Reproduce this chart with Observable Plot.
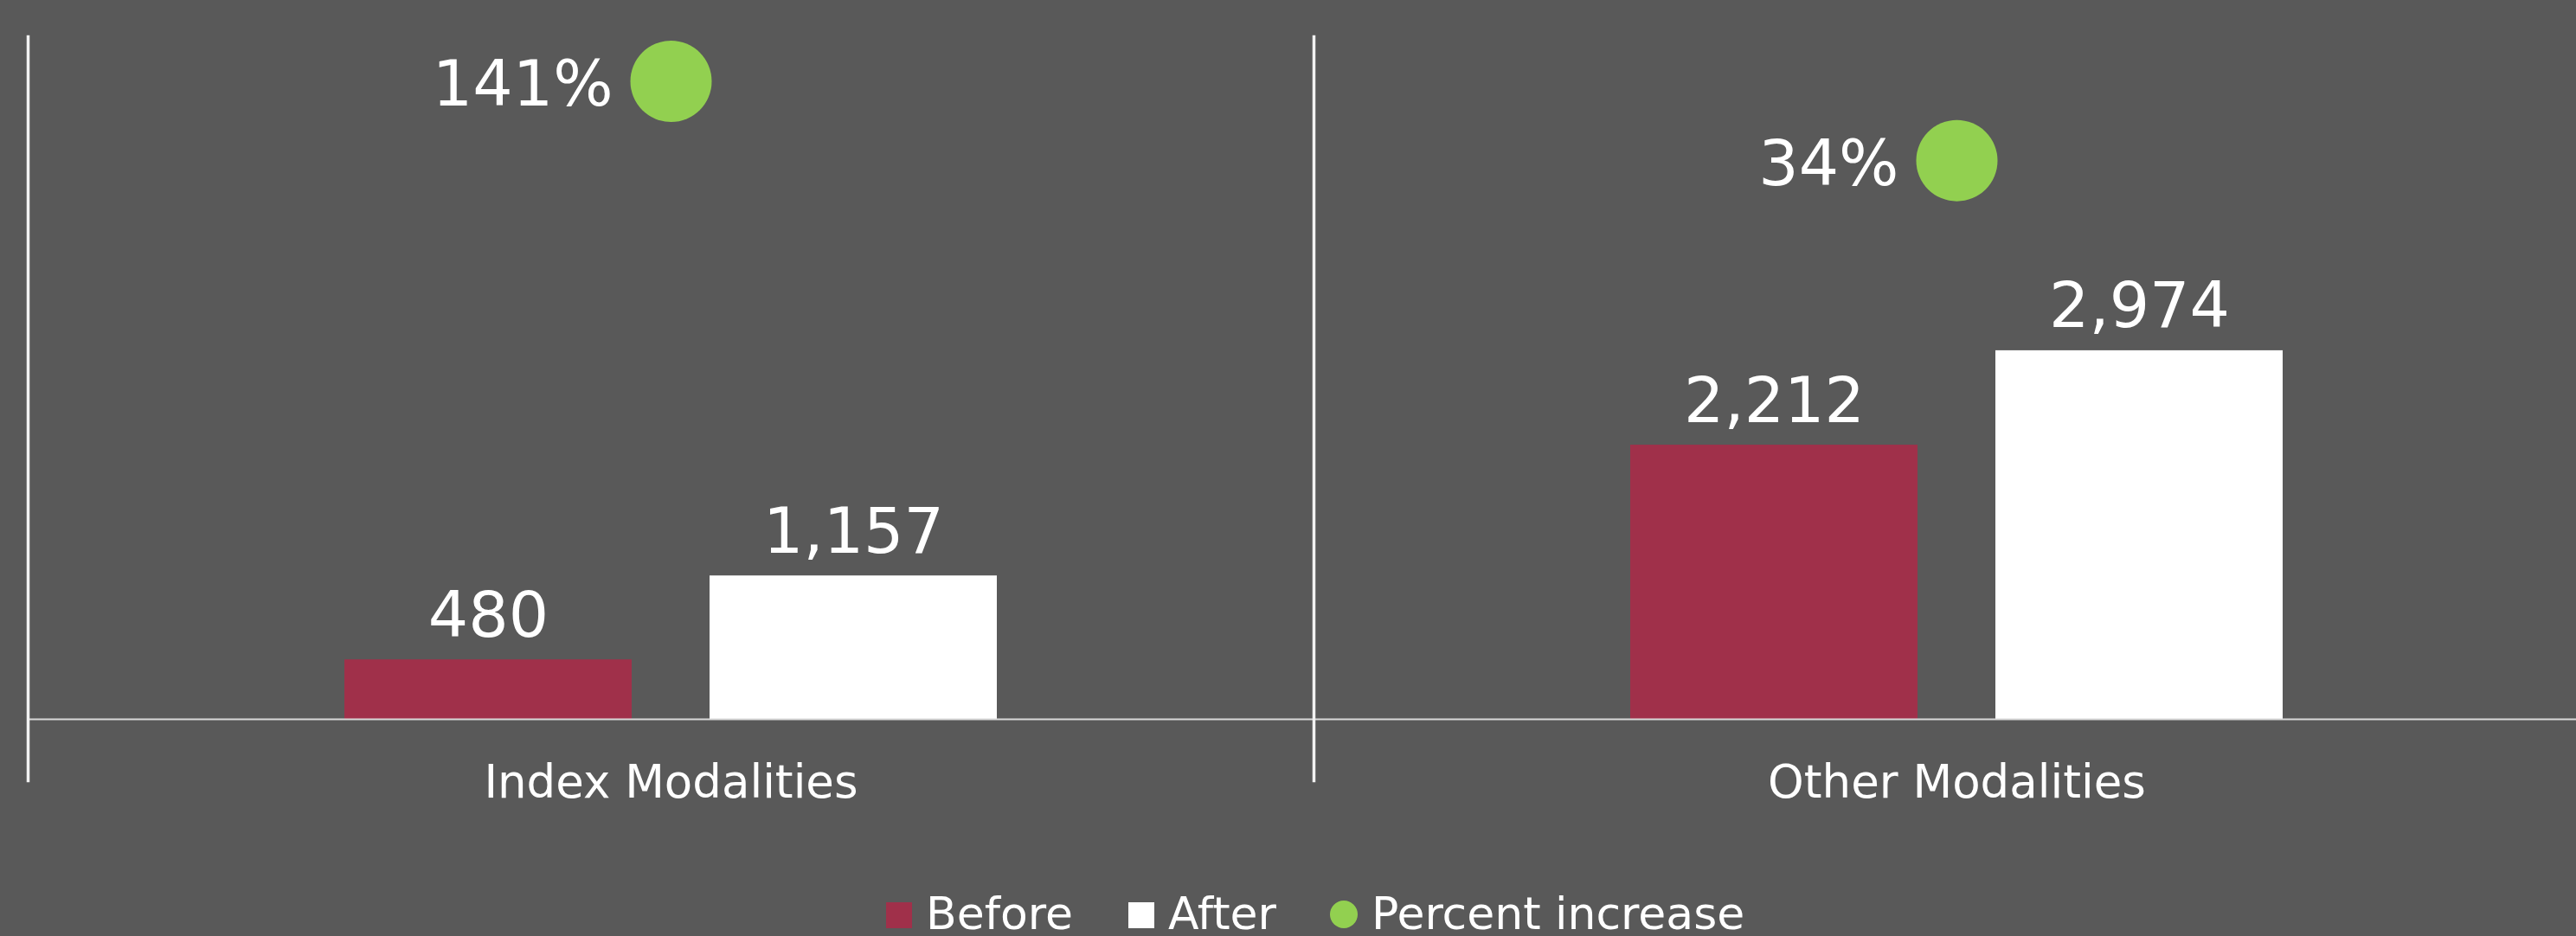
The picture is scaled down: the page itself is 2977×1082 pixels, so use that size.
<!DOCTYPE html>
<html>
<head>
<meta charset="utf-8">
<script src="https://cdn.jsdelivr.net/npm/d3@7"></script>
<script src="https://cdn.jsdelivr.net/npm/@observablehq/plot@0.6"></script>
<style>
html, body { margin: 0; padding: 0; background: #595959; overflow: hidden; }
#chart { position: relative; width: 2977px; height: 1000px; }
#chart svg { position: absolute; left: 0; top: 0; }
#legend { position: relative; width: 2977px; height: 82px; font-family: "DejaVu Sans"; font-size: 52px; line-height: 52px; color: #fff; }
#legend .row { position: absolute; left: 1024px; top: 30px; display: flex; align-items: flex-start; white-space: nowrap; }
#legend .sw { width: 30px; height: 30px; margin-top: 13px; margin-right: 16px; }
#legend .circ { width: 32px; height: 32px; border-radius: 50%; margin-top: 11px; margin-right: 16px; }
</style>
</head>
<body>
<div id="chart"></div>
<div id="legend"><div class="row" id="legendRow"></div></div>
<script>
const categories = ["Index Modalities", "Other Modalities"];
const seriesNames = ["Before", "After"];
const beforeValues = [480, 2212];
const afterValues = [1157, 2974];
const percentIncrease = [141, 34];
const seriesColors = ["#A0304A", "#FFFFFF"];
const percentColor = "#92D050";
const percentLabel = "Percent increase";

const bars = categories.flatMap((c, i) => [
  {category: c, series: seriesNames[0], value: beforeValues[i]},
  {category: c, series: seriesNames[1], value: afterValues[i]}
]);
const pcts = categories.map((c, i) => ({category: c, pct: percentIncrease[i]}));

const common = {
  width: 2977, height: 1000,
  marginTop: 43, marginBottom: 169, marginLeft: 32, marginRight: 0,
  fx: {domain: categories, range: [32, 3004], padding: 0, axis: null},
  style: {background: "transparent", fontFamily: "DejaVu Sans", color: "white", overflow: "hidden"}
};

const main = Plot.plot({
  ...common,
  x: {domain: seriesNames, paddingInner: 0.2128, paddingOuter: 0.863, axis: null},
  y: {domain: [0, 5500], axis: null},
  color: {domain: seriesNames, range: seriesColors},
  marks: [
    Plot.barY(bars, {fx: "category", x: "series", y: "value", fill: "series"}),
    Plot.ruleY([0], {stroke: "#D9D9D9", strokeWidth: 2}),
    Plot.frame({anchor: "left", stroke: "#F2F2F2", strokeWidth: 3.5, insetTop: -1, insetBottom: -71}),
    Plot.text(bars, {fx: "category", x: "series", y: "value", text: d => d3.format(",")(d.value),
      lineAnchor: "bottom", dy: -27, fill: "white", fontSize: 73}),
    Plot.text(categories, {fx: d => d, text: d => d, frameAnchor: "bottom", lineAnchor: "bottom",
      dy: 90, fill: "white", fontSize: 53})
  ]
});

const overlay = Plot.plot({
  ...common,
  y: {domain: [-720, 200], axis: null},
  marks: [
    Plot.dot(pcts, {fx: "category", y: "pct", r: 47, fill: percentColor}),
    Plot.text(pcts, {fx: "category", y: "pct", text: d => d.pct + "%", textAnchor: "end",
      dx: -67, dy: 5, fill: "white", fontSize: 73})
  ]
});

const chart = document.getElementById("chart");
chart.appendChild(main);
chart.appendChild(overlay);

const row = document.getElementById("legendRow");
const items = [
  {label: seriesNames[0], color: seriesColors[0], cls: "sw", gap: 64},
  {label: seriesNames[1], color: seriesColors[1], cls: "sw", gap: 62},
  {label: percentLabel, color: percentColor, cls: "circ", gap: 0}
];
items.forEach(it => {
  const s = document.createElement("div");
  s.className = it.cls;
  s.style.background = it.color;
  const t = document.createElement("span");
  t.textContent = it.label;
  t.style.marginRight = it.gap + "px";
  row.appendChild(s);
  row.appendChild(t);
});
</script>
</body>
</html>
